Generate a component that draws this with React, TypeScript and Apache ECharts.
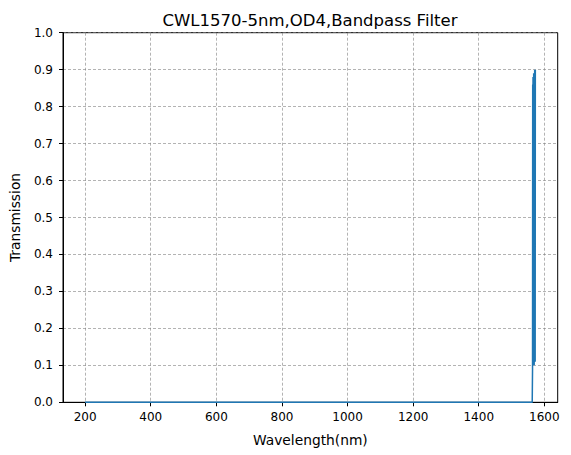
import React, { useEffect, useRef } from "react";
import * as echarts from "echarts";

const titleText = "CWL1570-5nm,OD4,Bandpass Filter";
const xTicks = [200, 400, 600, 800, 1000, 1200, 1400, 1600];

// Flat blocking region
const flatWavelengths = [200, 300, 400, 500, 600, 700, 800, 900, 1000, 1100, 1200, 1300, 1400, 1500, 1550, 1563];
const flatTransmission = [0, 0, 0, 0, 0, 0, 0, 0, 0, 0, 0, 0, 0, 0, 0, 0];
// Passband ripple region (dense oscillation)
const passWavelengths = [1564, 1564.5, 1565, 1565.5, 1566, 1566.5, 1567, 1567.5, 1568, 1568.5, 1569, 1569.5, 1570, 1570.5, 1571, 1571.5, 1572, 1572.5, 1573];
const passTransmission = [0.09, 0.86, 0.1, 0.88, 0.11, 0.87, 0.1, 0.89, 0.12, 0.88, 0.1, 0.89, 0.11, 0.9, 0.12, 0.9, 0.11, 0.9, 0.9];

const FONT = "DejaVu Sans";

export default function App() {
  const ref = useRef<HTMLDivElement>(null);
  useEffect(() => {
    if (!ref.current) return;
    const chart = echarts.init(ref.current, null, { renderer: "svg" });
    const wl = [...flatWavelengths, ...passWavelengths];
    const tr = [...flatTransmission, ...passTransmission];
    const data = wl.map((w, i) => [w, tr[i]]);
    chart.setOption({
      animation: false,
      backgroundColor: "#ffffff",
      title: {
        text: titleText,
        left: 305,
        top: 7,
        textAlign: "center",
        textStyle: { fontFamily: FONT, fontSize: 16.5, fontWeight: "normal", color: "#000" },
      },
      grid: {
        left: 61.5,
        right: 13.3,
        top: 32.7,
        bottom: 52.7,
        show: true,
        borderColor: "#000",
        borderWidth: 1,
        backgroundColor: "transparent",
      },
      xAxis: {
        type: "value",
        min: 132.5,
        max: 1640.7,
        name: "Wavelength(nm)",
        nameLocation: "middle",
        nameGap: 31,
        nameTextStyle: { fontFamily: FONT, fontSize: 13.8, color: "#000" },
        axisLine: { show: true, onZero: false, lineStyle: { color: "#000", width: 1 } },
        axisTick: { show: true, inside: false, length: 4, customValues: xTicks, lineStyle: { color: "#000" } },
        axisLabel: {
          customValues: xTicks,
          fontFamily: FONT,
          fontSize: 12,
          color: "#000",
          margin: 9,
          showMinLabel: true,
          showMaxLabel: true,
          formatter: (v: number) => String(v),
        },
        splitLine: { show: true, lineStyle: { color: "#808080", width: 0.6, type: [3, 2] } },
      },
      yAxis: {
        type: "value",
        min: 0,
        max: 1,
        interval: 0.1,
        name: "Transmission",
        nameLocation: "middle",
        nameGap: 41,
        nameRotate: 90,
        nameTextStyle: { fontFamily: FONT, fontSize: 13.8, color: "#000" },
        axisLine: { show: true, lineStyle: { color: "#000", width: 1 } },
        axisTick: { show: true, inside: false, length: 4, lineStyle: { color: "#000" } },
        axisLabel: {
          fontFamily: FONT,
          fontSize: 12,
          color: "#000",
          margin: 10,
          formatter: (v: number) => v.toFixed(1),
        },
        splitLine: { show: true, lineStyle: { color: "#808080", width: 0.6, type: [3, 2] } },
      },
      series: [
        {
          type: "line",
          data,
          showSymbol: false,
          symbol: "none",
          lineStyle: { color: "#1f77b4", width: 1.5 },
          clip: true,
        },
      ],
    });
    return () => chart.dispose();
  }, []);
  return <div ref={ref} style={{ width: 571, height: 455, position: "absolute", left: 0, top: 0 }} />;
}
